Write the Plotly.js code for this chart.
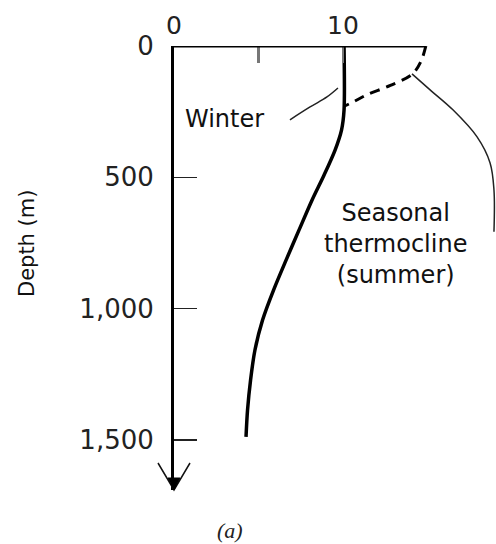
<!DOCTYPE html>
<html>
<head>
<meta charset="utf-8">
<script src="https://cdn.plot.ly/plotly-3.0.1.min.js"></script>
<style>
  html, body { margin: 0; padding: 0; background: #ffffff; }
  #chart { width: 496px; height: 544px; }
</style>
</head>
<body>
<div id="chart"></div>
<script>
// Temperature (°C) vs depth (m)
var winterTemp  = [10.06, 10.06, 9.91, 9.53, 8.88, 8.17, 7.40, 6.63, 5.89, 5.24, 4.79, 4.53, 4.35, 4.26];
var winterDepth = [0,     244,   320,  396,  491,  586,  700,  815,  929,  1043, 1157, 1271, 1386, 1488];

var summerTemp  = [14.9, 14.6, 14.1, 12.8, 11.4, 10.6, 10.1];
var summerDepth = [0,    60,   107,  150,  186,  213,  228];

// leader lines for the labels
var winterLeadTemp  = [6.86, 8.05, 9.05, 9.7];
var winterLeadDepth = [281,  232,  194,  160];
var summerLeadTemp  = [14.08, 15.15, 16.5, 17.93, 18.7, 18.93, 18.93];
var summerLeadDepth = [106,   167,   243,  346,   445,  548,   707];

var xTickVals = [0, 5, 10];
var xTickText = ['0', '', '10'];
var yTickVals = [0, 500, 1000, 1500];
var yTickText = ['0', '500', '1,000', '1,500'];

var xMax = 19.05, xAxisEnd = 14.85, depthMax = 1690;

var font = 'DejaVu Sans, sans-serif';

var traces = [
  { x: winterTemp, y: winterDepth, mode: 'lines', line: { color: '#000', width: 3.5, shape: 'spline', smoothing: 0.8 }, hoverinfo: 'none' },
  { x: summerTemp, y: summerDepth, mode: 'lines', line: { color: '#000', width: 3, dash: '10px,7px', shape: 'spline' }, hoverinfo: 'none' },
  { x: winterLeadTemp, y: winterLeadDepth, mode: 'lines', line: { color: '#222', width: 1.5, shape: 'spline' }, hoverinfo: 'none' },
  { x: summerLeadTemp, y: summerLeadDepth, mode: 'lines', line: { color: '#222', width: 1.5, shape: 'spline' }, hoverinfo: 'none' }
];

var layout = {
  width: 496, height: 544,
  margin: { l: 174, r: 0, t: 46, b: 54 },
  paper_bgcolor: '#fff', plot_bgcolor: '#fff',
  showlegend: false,
  xaxis: {
    side: 'top', range: [0, xMax], showline: false, showgrid: false, zeroline: false,
    tickmode: 'array', tickvals: xTickVals, ticktext: xTickText,
    ticks: 'inside', ticklen: 17, tickwidth: 2.5, tickcolor: '#777',
    ticklabelstandoff: 6,
    tickfont: { family: font, size: 25, color: '#222' }
  },
  yaxis: {
    range: [depthMax, 0], showline: true, linecolor: '#000', linewidth: 3,
    showgrid: false, zeroline: false,
    tickmode: 'array', tickvals: yTickVals, ticktext: yTickText,
    ticks: 'inside', ticklen: 23, tickwidth: 1.5, tickcolor: '#222',
    ticklabelstandoff: 12,
    tickfont: { family: font, size: 26, color: '#222' }
  },
  shapes: [
    { type: 'line', xref: 'x', yref: 'y', x0: 0, x1: xAxisEnd, y0: 0, y1: 0, line: { color: '#000', width: 3 } },
    { type: 'path', xref: 'paper', yref: 'paper', xsizemode: 'pixel', ysizemode: 'pixel', xanchor: 0, yanchor: 0,
      path: 'M -16 27 L 0 0 L 16 27', line: { color: '#111', width: 1.5 } },
    { type: 'path', xref: 'paper', yref: 'paper', xsizemode: 'pixel', ysizemode: 'pixel', xanchor: 0, yanchor: 0,
      path: 'M -6 12 L 0 0 L 6 12 Z', fillcolor: '#000', line: { color: '#000', width: 1 } }
  ],
  annotations: [
    { text: 'Winter', x: 2.96, y: 278, xref: 'x', yref: 'y', showarrow: false,
      font: { family: font, size: 24, color: '#111' } },
    { text: 'Seasonal<br>thermocline<br>(summer)', x: 13.08, y: 754, xref: 'x', yref: 'y', showarrow: false,
      font: { family: font, size: 24, color: '#111' } },
    { text: 'Depth (m)', x: -0.4565, y: 0.554, xref: 'paper', yref: 'paper', xanchor: 'center', yanchor: 'middle',
      showarrow: false, textangle: -90,
      font: { family: font, size: 21, color: '#111' } },
    { text: '<i>(a)</i>', x: 0.174, y: -0.0901, xref: 'paper', yref: 'paper', xanchor: 'center', yanchor: 'middle',
      showarrow: false,
      font: { family: 'Liberation Serif, serif', size: 22, color: '#222' } }
  ]
};

Plotly.newPlot('chart', traces, layout, { displayModeBar: false, staticPlot: true });
</script>
</body>
</html>
